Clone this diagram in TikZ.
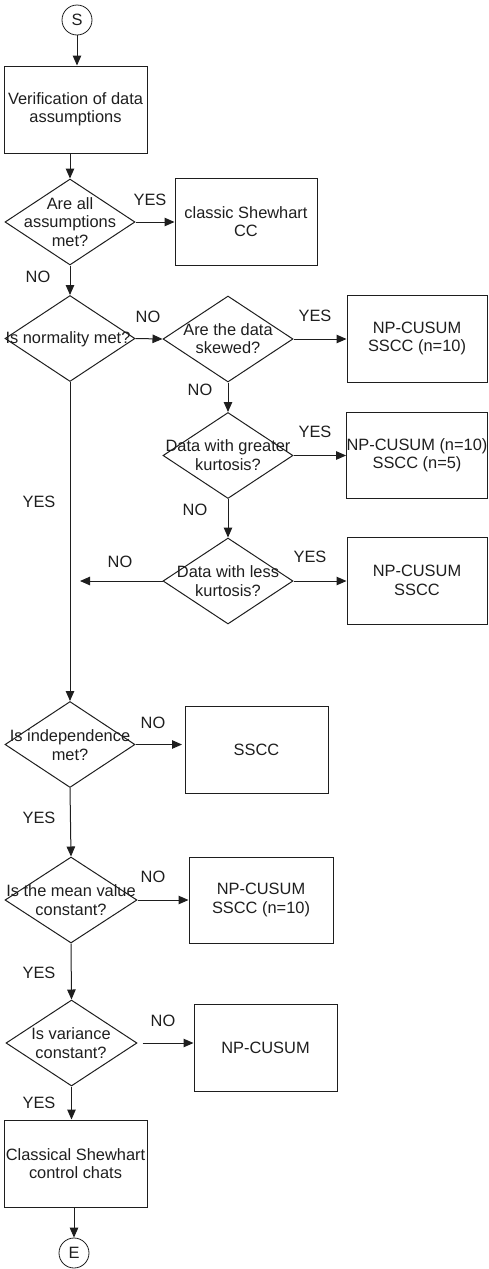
\documentclass[tikz,border=0pt]{standalone}
\usepackage{fontspec}
\setmainfont{Liberation Sans}
\usetikzlibrary{shapes.geometric,arrows.meta}
\definecolor{ink}{RGB}{30,30,30}
\begin{document}
\begin{tikzpicture}[x=1pt,y=-1pt,
  every node/.style={font=\fontsize{16.4}{18.5}\selectfont, text=ink},
  box/.style={draw=ink, line width=1pt, rectangle, inner sep=0pt, align=center},
  dec/.style={draw=ink, line width=1pt, diamond, inner sep=0pt, minimum width=130pt, minimum height=86pt},
  term/.style={draw=ink, line width=0.8pt, circle, inner sep=0pt, minimum size=30pt},
  lbl/.style={inner sep=0pt},
  txt/.style={align=center, inner sep=0pt},
  arr/.style={draw=ink, line width=1pt, -{Triangle[length=10pt,width=8.5pt]}}]
\useasboundingbox (0,0) rectangle (488,1269);

% terminals
\node[term] (S) at (77,20) {S};
\node[term] (E) at (74,1253) {E};

% boxes
\node[box, minimum width=143pt, minimum height=87pt] (b1) at (75.5,109.5) {Verification of data\\assumptions};
\node[box, minimum width=142pt, minimum height=87pt] (b2) at (246,221.5) {classic Shewhart\\CC};
\node[box, minimum width=140pt, minimum height=87pt] (b3) at (417,338.5) {NP-CUSUM\\SSCC (n=10)};
\node[box, minimum width=140pt, minimum height=86pt] (b4) at (417,455) {NP-CUSUM (n=10)\\SSCC (n=5)};
\node[box, minimum width=140pt, minimum height=87pt] (b5) at (417,580.5) {NP-CUSUM\\SSCC};
\node[box, minimum width=143pt, minimum height=87pt] (b6) at (256.5,749.5) {SSCC};
\node[box, minimum width=144pt, minimum height=86pt] (b7) at (261,900) {NP-CUSUM\\SSCC (n=10)};
\node[box, minimum width=143pt, minimum height=87pt] (b8) at (265.5,1047.5) {NP-CUSUM};
\node[box, minimum width=143pt, minimum height=87pt] (b9) at (75.5,1163.5) {Classical Shewhart\\control chats};

% decisions
\node[dec] (d1) at (70,222) {};
\node[dec] (d2) at (70,338.5) {};
\node[dec] (d3) at (228,339) {};
\node[dec] (d4) at (228,455.5) {};
\node[dec] (d5) at (228,581) {};
\node[dec] (d6) at (70,744.5) {};
\node[dec, minimum width=132pt] (d7) at (71,900) {};
\node[dec, minimum width=131pt] (d8) at (71.5,1043) {};

\node[txt] (t1) at (70,222) {Are all\\assumptions\\met?};
\node[txt] (t2) at (68,339) {Is normality met?};
\node[txt] (t3) at (228,338.5) {Are the data\\skewed?};
\node[txt] (t4) at (228,455) {Data with greater\\kurtosis?};
\node[txt] (t5) at (228,581) {Data with less\\kurtosis?};
\node[txt] (t6) at (70,745) {Is independence\\met?};
\node[txt] (t7) at (71,900) {Is the mean value\\constant?};
\node[txt] (t8) at (71,1043) {Is variance\\constant?};

% connectors
\draw[arr] (S.south) -- (S.south |- b1.north);
\draw[arr] (d1.north |- b1.south) -- (d1.north);
\draw[arr] (d1.east) -- (d1.east -| b2.west);
\draw[arr] (d1.south) -- (d2.north);
\draw[arr] (d2.east) -- (d3.west);
\draw[arr] (d3.east) -- (d3.east -| b3.west);
\draw[arr] (d3.south) -- (d4.north);
\draw[arr] (d4.east) -- (d4.east -| b4.west);
\draw[arr] (d4.south) -- (d5.north);
\draw[arr] (d5.east) -- (d5.east -| b5.west);
\coordinate (nok) at (80,581);
\draw[arr] (d5.west) -- (nok);
\draw[arr] (d2.south) -- (d6.north);
\draw[arr] (d6.east) -- (182,744.5);
\draw[arr] (d6.south) -- (d7.north);
\draw[arr] (d7.east) -- (d7.east -| b7.west);
\draw[arr] (d7.south) -- (d8.north);
\draw[arr] ([xshift=5pt]d8.east) -- (d8.east -| b8.west);
\draw[arr] (d8.south) -- (d8.south |- b9.north);
\draw[arr] (b9.south -| E) -- (E.north);

% labels
\node[lbl] (l1) at (150,200) {YES};
\node[lbl] (l2) at (38,277) {NO};
\node[lbl] (l3) at (148,317) {NO};
\node[lbl] (l4) at (315,316) {YES};
\node[lbl] (l5) at (200,390) {NO};
\node[lbl] (l6) at (315,432) {YES};
\node[lbl] (l7) at (195,510) {NO};
\node[lbl] (l8) at (310,557) {YES};
\node[lbl] (l9) at (120,562) {NO};
\node[lbl] (l10) at (39,502) {YES};
\node[lbl] (l11) at (153,723) {NO};
\node[lbl] (l12) at (39,818) {YES};
\node[lbl] (l13) at (153,877) {NO};
\node[lbl] (l14) at (39,973) {YES};
\node[lbl] (l15) at (163,1021) {NO};
\node[lbl] (l16) at (39,1103) {YES};
\end{tikzpicture}
\end{document}
